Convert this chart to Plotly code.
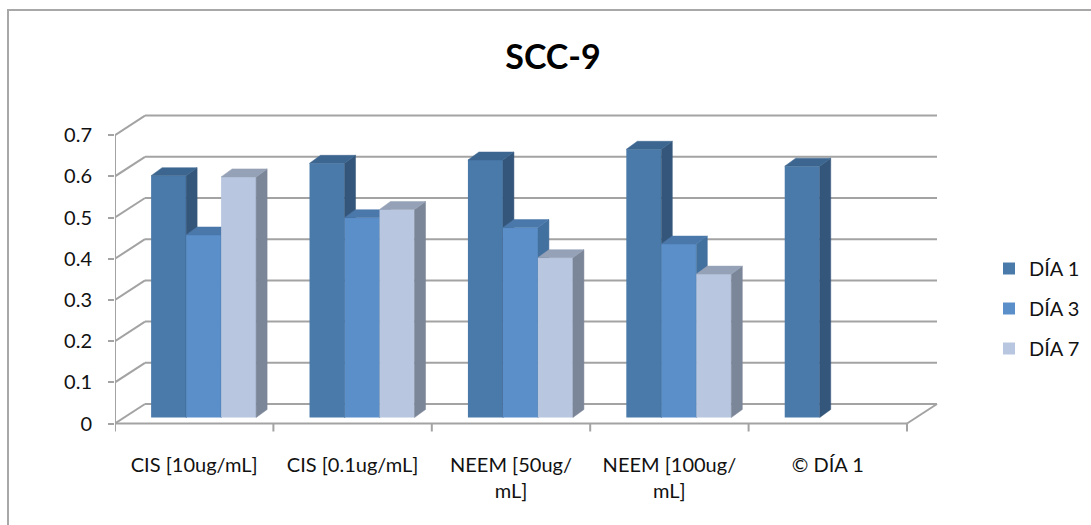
import plotly.graph_objects as go

# ---------------- data ----------------
categories = ["CIS [10ug/mL]", "CIS [0.1ug/mL]", "NEEM [50ug/<br>mL]", "NEEM [100ug/<br>mL]", "© DÍA 1"]
series_names = ["DÍA 1", "DÍA 3", "DÍA 7"]
dia1 = [0.587, 0.617, 0.625, 0.651, 0.610]
dia3 = [0.443, 0.485, 0.461, 0.421, None]
dia7 = [0.584, 0.505, 0.388, 0.348, None]
y_ticks = [0, 0.1, 0.2, 0.3, 0.4, 0.5, 0.6, 0.7]
y_ticktext = ["0", "0.1", "0.2", "0.3", "0.4", "0.5", "0.6", "0.7"]

# ---------------- styles ----------------
front_colors = ["#4a7aaa", "#5b8fca", "#b8c6e0"]
side_colors = ["#34567a", "#42709f", "#7b8699"]
top_colors = ["#3c6690", "#4b78aa", "#95a1b6"]
grid_color = "#a3a3a3"
FONT = "Lato"

W, H = 1091, 525
L, R_PX, T, B_PX = 115, 960, 100, 440
PX_X = 158.4            # pixels per category unit
ZERO_PX, PX_Y = 423.5, 412.0
xr = [-0.5, -0.5 + (R_PX - L) / PX_X]
yr = [-(B_PX - ZERO_PX) / PX_Y, (ZERO_PX - T) / PX_Y]

bar_w = 35 / PX_X
first_off = -0.272
base = 6 / PX_Y
ddx, ddy = 11 / PX_X, 8 / PX_Y          # bar depth
wdx, wdy = 30 / PX_X, 19.5 / PX_Y       # wall depth

fig = go.Figure()
all_series = [dia1, dia3, dia7]
n = len(categories)
xs = list(range(n))

for s, vals in enumerate(all_series):
    suffix = "" if s == 0 else str(s + 1)
    xa, ya = "x" + suffix, "y" + suffix
    off = first_off + s * bar_w
    fig.add_trace(go.Bar(
        x=xs, y=vals, base=base, offset=off, width=bar_w,
        marker=dict(color=front_colors[s], line=dict(width=0)),
        name=series_names[s], legendgroup=series_names[s],
        xaxis=xa, yaxis=ya, hoverinfo="skip",
    ))
    for i, v in enumerate(vals):
        if v is None:
            continue
        x0 = i + off
        x1 = x0 + bar_w
        yb, yt = base, base + v
        # side face
        fig.add_trace(go.Scatter(
            x=[x1, x1 + ddx, x1 + ddx, x1, x1],
            y=[yb, yb + ddy, yt + ddy, yt, yb],
            fill="toself", fillcolor=side_colors[s], mode="lines",
            line=dict(color=side_colors[s], width=0.5),
            showlegend=False, hoverinfo="skip", xaxis=xa, yaxis=ya))
        # top face
        fig.add_trace(go.Scatter(
            x=[x0, x0 + ddx, x1 + ddx, x1, x0],
            y=[yt, yt + ddy, yt + ddy, yt, yt],
            fill="toself", fillcolor=top_colors[s], mode="lines",
            line=dict(color=top_colors[s], width=0.5),
            showlegend=False, hoverinfo="skip", xaxis=xa, yaxis=ya))

shapes = []
line = dict(color=grid_color, width=2)
x_left, x_right = -0.5, n - 0.5
for t in y_ticks:
    # left wall diagonal
    shapes.append(dict(type="line", xref="x", yref="y", x0=x_left, y0=t,
                       x1=x_left + wdx, y1=t + wdy, line=line, layer="below"))
    # back wall gridline
    shapes.append(dict(type="line", xref="x", yref="y", x0=x_left + wdx, y0=t + wdy,
                       x1=x_right + wdx, y1=t + wdy, line=line, layer="below"))
# front vertical axis
shapes.append(dict(type="line", xref="x", yref="y", x0=x_left, y0=0, x1=x_left, y1=y_ticks[-1],
                   line=line, layer="below"))
# floor front edge
shapes.append(dict(type="line", xref="x", yref="y", x0=x_left, y0=0, x1=x_right, y1=0,
                   line=line, layer="below"))
# floor right edge
shapes.append(dict(type="line", xref="x", yref="y", x0=x_right, y0=0, x1=x_right + wdx, y1=wdy,
                   line=line, layer="below"))
# category boundary ticks
for i in range(n + 1):
    xb = i - 0.5
    shapes.append(dict(type="line", xref="x", yref="y", x0=xb, y0=0, x1=xb, y1=-8 / PX_Y,
                       line=line, layer="below"))
# outer chart border
pw, ph = R_PX - L, B_PX - T
shapes.append(dict(type="rect", xref="paper", yref="paper",
                   x0=(8 - L) / pw, x1=(W + 20 - L) / pw,
                   y0=(B_PX - (H + 20)) / ph, y1=(B_PX - 10) / ph,
                   line=dict(color="#a8a8a8", width=2), fillcolor="rgba(0,0,0,0)", layer="below"))

axis_common = dict(showgrid=False, zeroline=False, fixedrange=True)
fig.update_layout(
    width=W, height=H,
    margin=dict(l=L, r=W - R_PX, t=T, b=H - B_PX, autoexpand=False),
    paper_bgcolor="white", plot_bgcolor="white",
    barmode="overlay",
    font=dict(family=FONT, size=20, color="#111111"),
    title=dict(text="<b>SCC-9</b>", x=553 / W, xanchor="center", y=1 - 57 / H, yanchor="middle",
               font=dict(family=FONT, size=34, color="#000000")),
    xaxis=dict(range=xr, tickvals=xs, ticktext=categories, ticks="", showline=False,
               ticklabelstandoff=11, tickfont=dict(size=20), **axis_common),
    yaxis=dict(range=yr, tickvals=y_ticks, ticktext=y_ticktext, ticks="outside", ticklen=6,
               tickwidth=2, tickcolor=grid_color, showline=False, ticklabelstandoff=12,
               tickfont=dict(size=20), **axis_common),
    xaxis2=dict(range=xr, overlaying="x", visible=False, **axis_common),
    xaxis3=dict(range=xr, overlaying="x", visible=False, **axis_common),
    yaxis2=dict(range=yr, overlaying="y", visible=False, **axis_common),
    yaxis3=dict(range=yr, overlaying="y", visible=False, **axis_common),
    legend=dict(x=(989 - L) / pw, xanchor="left", y=(B_PX - 249) / ph, yanchor="top",
                font=dict(family=FONT, size=20, color="#111111"),
                tracegroupgap=11, bgcolor="rgba(0,0,0,0)"),
    shapes=shapes,
    showlegend=True,
)

fig.write_html("out.html")
